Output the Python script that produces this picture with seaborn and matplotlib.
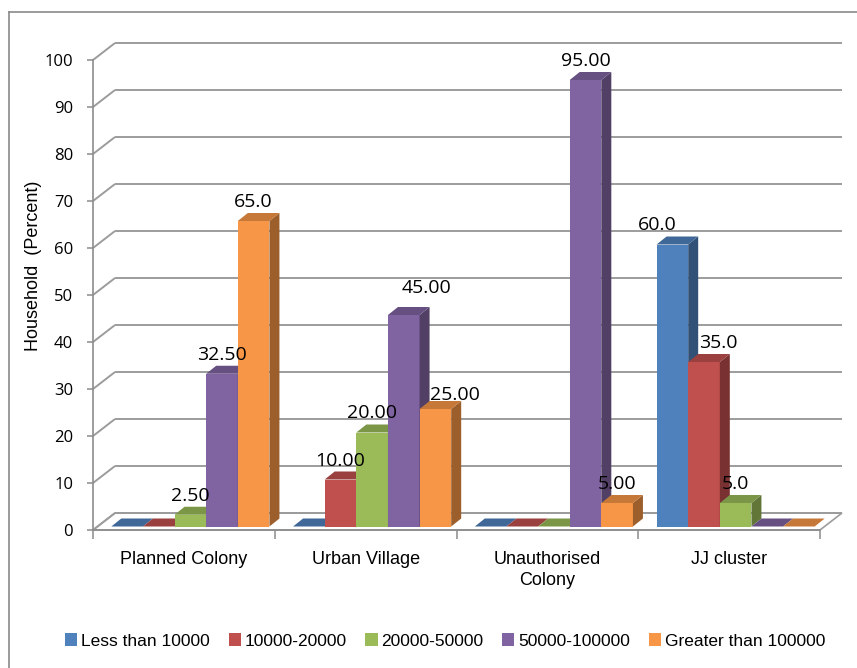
import numpy as np
import pandas as pd
import matplotlib
matplotlib.use("Agg")
import matplotlib.pyplot as plt
import seaborn as sns
from matplotlib import font_manager
from matplotlib.patches import Polygon, Patch
from matplotlib.lines import Line2D
from matplotlib.transforms import offset_copy
from matplotlib.colors import to_rgb

# ---- data -------------------------------------------------------------
categories = ["Planned Colony", "Urban Village", "Unauthorised\nColony", "JJ cluster"]
income_groups = ["Less than 10000", "10000-20000", "20000-50000",
                 "50000-100000", "Greater than 100000"]

less_than_10000 = [0, 0, 0, 60]
from_10000_to_20000 = [0, 10, 0, 35]
from_20000_to_50000 = [2.5, 20, 0, 5]
from_50000_to_100000 = [32.5, 45, 95, 0]
greater_than_100000 = [65, 25, 5, 0]

# decimals shown in each value label (zero bars carry no label)
label_decimals = [
    [2, 2, 2, 1],
    [2, 2, 2, 1],
    [2, 2, 2, 1],
    [2, 2, 2, 2],
    [1, 2, 2, 2],
]

yticks = list(range(0, 101, 10))
colors = ["#4F81BD", "#C0504D", "#9BBB59", "#8064A2", "#F79646"]

series = [less_than_10000, from_10000_to_20000, from_20000_to_50000,
          from_50000_to_100000, greater_than_100000]
df = pd.DataFrame(
    [(cat, grp, vals[j]) for grp, vals in zip(income_groups, series)
     for j, cat in enumerate(categories)],
    columns=["Area", "Income", "Household"],
)

# ---- fonts ------------------------------------------------------------
installed = {f.name for f in font_manager.fontManager.ttflist}
if "Liberation Sans Narrow" in installed:
    cat_font = dict(family="Liberation Sans Narrow", size=15)
    leg_font = dict(family="Liberation Sans Narrow", size=11)
    cat_spacing = 1.1
    leg_colspace = 0.5
else:
    cat_font = dict(family="Liberation Sans", size=13)
    leg_font = dict(family="Liberation Sans", size=12.5)
    cat_spacing = 1.3
    leg_colspace = 1.1
num_family = "Open Sans"

# ---- figure / axes ----------------------------------------------------
W, H = 857, 668
fig = plt.figure(figsize=(W / 100, H / 100), dpi=100)
fig.patch.set_facecolor("white")
L, B, AW, AH = 93 / W, (H - 530) / H, 727 / W, 470 / H
ax = fig.add_axes([L, B, AW, AH])
ax.set_facecolor("none")

sns.barplot(data=df, x="Area", y="Household", hue="Income",
            order=categories, hue_order=income_groups, palette=colors,
            width=0.87, saturation=1, linewidth=0, legend=False, ax=ax)

ax.set_xlim(-0.5, 3.5)
ax.set_ylim(0, 100)

# data units per pixel
kx = 4.0 / (AW * W)
ky = 100.0 / (AH * H)

grid_c = "#9c9c9c"
axis_c = "#8c8c8c"

# back wall gridlines with depth
gx, gy = 22 * kx, 17 * ky
for v in yticks:
    ax.plot([-0.5, -0.5 + gx], [v, v + gy], color=grid_c, lw=1.4,
            clip_on=False, zorder=0.6, solid_capstyle="butt")
    ax.plot([-0.5 + gx, 3.5 + gx], [v + gy, v + gy], color=grid_c, lw=1.4,
            clip_on=False, zorder=0.6, solid_capstyle="butt")

# floor
floor = Polygon([(-0.5, 0), (3.5, 0), (3.5 + gx, gy), (-0.5 + gx, gy)],
                closed=True, facecolor="white", edgecolor=grid_c, lw=1.2,
                clip_on=False, zorder=0.5)
ax.add_patch(floor)


def shade(c, f):
    r, g, b = to_rgb(c)
    return (r * f, g * f, b * f)


# bars with top and side faces
shift = offset_copy(ax.transData, fig=fig, x=6.5, y=3.5, units="dots")
dx, dy = 10 * kx, 8 * ky

label_nudge = {  # (series, category) -> pixel offsets for crowded labels
    (3, 1): (23, 8),
    (4, 1): (20, -5),
    (0, 3): (-15, 0),
    (1, 3): (14, 0),
}

for i, cont in enumerate(ax.containers):
    c = colors[i]
    for j, bar in enumerate(cont):
        x0, w, h = bar.get_x(), bar.get_width(), bar.get_height()
        z = 3 + j * 10 + i
        bar.set_transform(shift)
        bar.set_clip_on(False)
        bar.set_zorder(z)
        top = Polygon([(x0, h), (x0 + w, h), (x0 + w + dx, h + dy), (x0 + dx, h + dy)],
                      closed=True, facecolor=shade(c, 0.8), edgecolor="none",
                      transform=shift, clip_on=False, zorder=z)
        side = Polygon([(x0 + w, 0), (x0 + w, h), (x0 + w + dx, h + dy), (x0 + w + dx, dy)],
                       closed=True, facecolor=shade(c, 0.63), edgecolor="none",
                       transform=shift, clip_on=False, zorder=z)
        ax.add_patch(side)
        ax.add_patch(top)
        if h > 0:
            nx, ny = label_nudge.get((i, j), (0, 0))
            ax.text(x0 + w / 2 + nx * kx, h + (14 + ny) * ky,
                    f"{h:.{label_decimals[i][j]}f}", transform=shift,
                    ha="center", va="baseline", fontsize=14,
                    family=num_family, color="black", zorder=100)

# axes styling
for s in ["top", "right"]:
    ax.spines[s].set_visible(False)
for s in ["left", "bottom"]:
    ax.spines[s].set_color(axis_c)
    ax.spines[s].set_linewidth(1.2)

ax.set_yticks(yticks)
ax.set_yticklabels([str(v) for v in yticks], family=num_family, fontsize=12)
ax.tick_params(axis="y", length=4.3, width=1.1, color=axis_c, pad=10)

ax.set_xticks(range(len(categories)))
ax.set_xticklabels(categories, **cat_font)
for t in ax.get_xticklabels():
    t.set_linespacing(cat_spacing)
ax.set_xticks(np.arange(-0.5, 4, 1.0), minor=True)
ax.tick_params(axis="x", which="major", length=0, pad=15)
ax.tick_params(axis="x", which="minor", length=6.5, width=1.1, color=axis_c)

ax.set_xlabel("")
ax.set_ylabel("Household  (Percent)", family="Liberation Sans", fontsize=13)
ax.yaxis.set_label_coords((42 - 93) / 727, 0.562)

# legend
handles = [Patch(facecolor=c, edgecolor="none") for c in colors]
fig.legend(handles, income_groups, loc="center", ncol=5, frameon=False,
           bbox_to_anchor=(445 / W, 1 - 641 / H),
           handlelength=0.7, handleheight=0.7, handletextpad=0.2,
           columnspacing=leg_colspace, prop=leg_font)

# chart border
fig.add_artist(Line2D([9 / W, 9 / W], [0, 1 - 12 / H], transform=fig.transFigure,
                      color="#8a8a8a", lw=1.2))
fig.add_artist(Line2D([9 / W, 1], [1 - 12 / H, 1 - 12 / H], transform=fig.transFigure,
                      color="#8a8a8a", lw=1.2))

fig.savefig("out.png", dpi=100, facecolor="white")
